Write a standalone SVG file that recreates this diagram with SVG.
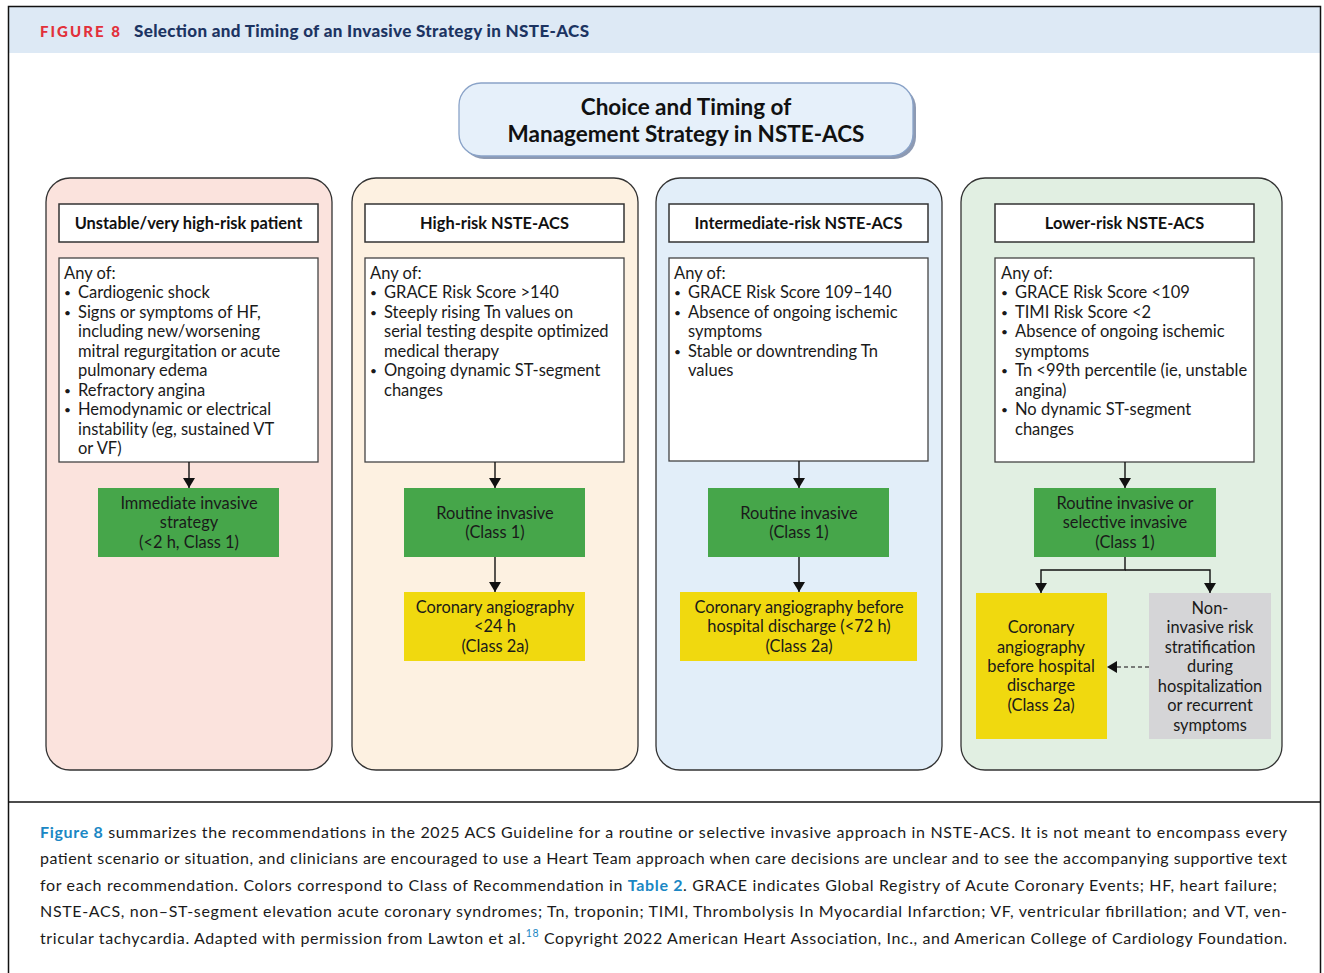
<svg xmlns="http://www.w3.org/2000/svg" width="1324" height="973" viewBox="0 0 1324 973">
<defs>
<marker id="ah" viewBox="0 0 10 12" refX="10" refY="6" markerWidth="10" markerHeight="12" markerUnits="userSpaceOnUse" orient="auto">
<path d="M0,0 L10,6 L0,12 Z" fill="#111"/>
</marker>
<style>
.col{stroke:#333;stroke-width:1.3}
.hdr{fill:#fff;stroke:#333;stroke-width:1.5}
.hdrt{font-family:Lato,"Liberation Sans",sans-serif;font-weight:bold;font-size:16.4px;fill:#111;text-anchor:middle}
.body{fill:#fff;stroke:#444;stroke-width:1.3}
.bt{font-family:Lato,"Liberation Sans",sans-serif;font-size:16.5px;fill:#1a1a1a}
.bu{font-family:Lato,"Liberation Sans",sans-serif;font-size:12px;fill:#1a1a1a}
.ct{font-family:Lato,"Liberation Sans",sans-serif;font-size:16.4px;fill:#1a1a1a;text-anchor:middle}
.green{fill:#46a64a}
.yellow{fill:#f0d90f}
.gray{fill:#d5d5d7}
.conn{stroke:#111;stroke-width:1.4;fill:none}
.cap{font-family:Lato,"Liberation Sans",sans-serif;font-size:16px;fill:#1a1a1a}
.lnk{fill:#1a87c4;font-weight:bold}
</style>
</defs>
<rect x="0" y="0" width="1324" height="973" fill="#fff"/>
<!-- frame -->
<rect x="9" y="7" width="1311" height="46" fill="#dde9f5"/>
<path d="M8.5,980 V6.5 H1320.5 V980" fill="none" stroke="#111" stroke-width="1.5"/>
<line x1="8" y1="802" x2="1321" y2="802" stroke="#111" stroke-width="1.5"/>
<text x="40" y="37" font-family="Lato,'Liberation Sans',sans-serif" font-weight="900" font-size="15" textLength="80" lengthAdjust="spacing" fill="#e2303a">FIGURE 8</text>
<text x="134" y="37" font-family="Lato,'Liberation Sans',sans-serif" font-weight="900" font-size="17" textLength="455" lengthAdjust="spacing" fill="#1c3462">Selection and Timing of an Invasive Strategy in NSTE-ACS</text>

<!-- title node -->
<g id="title">
<rect x="462" y="86" width="454" height="73" rx="22" fill="#8d9ab3"/>
<rect x="459" y="83" width="454" height="73" rx="22" fill="#e6f0fa" stroke="#8aa3c8" stroke-width="1.3"/>
<text x="686" y="115" font-family="Lato,'Liberation Sans',sans-serif" font-weight="bold" font-size="22.5" fill="#111" text-anchor="middle">Choice and Timing of</text>
<text x="686" y="142" font-family="Lato,'Liberation Sans',sans-serif" font-weight="bold" font-size="22.5" fill="#111" text-anchor="middle">Management Strategy in NSTE-ACS</text>
</g>

<!-- column backgrounds -->
<g id="col1">
<rect class="col" x="46" y="178" width="286" height="592" rx="24" fill="#fbe3dd"/>
<rect class="hdr" x="59" y="204" width="259" height="38"/>
<text class="hdrt" x="188.5" y="229">Unstable/very high-risk patient</text>
<rect class="body" x="59" y="258" width="259" height="204"/>
<text class="bt" x="64" y="279">Any of:</text>
<text class="bu" x="64" y="297">•</text><text class="bt" x="78" y="298">Cardiogenic shock</text>
<text class="bu" x="64" y="317">•</text><text class="bt" x="78" y="318">Signs or symptoms of HF,</text>
<text class="bt" x="78" y="337">including new/worsening</text>
<text class="bt" x="78" y="357">mitral regurgitation or acute</text>
<text class="bt" x="78" y="376">pulmonary edema</text>
<text class="bu" x="64" y="395">•</text><text class="bt" x="78" y="396">Refractory angina</text>
<text class="bu" x="64" y="414">•</text><text class="bt" x="78" y="415">Hemodynamic or electrical</text>
<text class="bt" x="78" y="435">instability (eg, sustained VT</text>
<text class="bt" x="78" y="454">or VF)</text>
</g>
<g id="n1-green">
<rect class="green" x="98" y="488" width="181" height="69"/>
<text class="ct" x="189" y="509">Immediate invasive</text>
<text class="ct" x="189" y="528">strategy</text>
<text class="ct" x="189" y="548">(&lt;2 h, Class 1)</text>
</g>

<g id="col2">
<rect class="col" x="352" y="178" width="286" height="592" rx="24" fill="#fdf1e1"/>
<rect class="hdr" x="365" y="204" width="259" height="38"/>
<text class="hdrt" x="494.5" y="229">High-risk NSTE-ACS</text>
<rect class="body" x="365" y="258" width="259" height="204"/>
<text class="bt" x="370" y="279">Any of:</text>
<text class="bu" x="370" y="297">•</text><text class="bt" x="384" y="298">GRACE Risk Score &gt;140</text>
<text class="bu" x="370" y="317">•</text><text class="bt" x="384" y="318">Steeply rising Tn values on</text>
<text class="bt" x="384" y="337">serial testing despite optimized</text>
<text class="bt" x="384" y="357">medical therapy</text>
<text class="bu" x="370" y="375">•</text><text class="bt" x="384" y="376">Ongoing dynamic ST-segment</text>
<text class="bt" x="384" y="396">changes</text>
</g>
<g id="n2-green">
<rect class="green" x="404" y="488" width="181" height="69"/>
<text class="ct" x="495" y="519">Routine invasive</text>
<text class="ct" x="495" y="538">(Class 1)</text>
</g>
<g id="n2-yellow">
<rect class="yellow" x="404" y="592" width="181" height="69"/>
<text class="ct" x="495" y="613">Coronary angiography</text>
<text class="ct" x="495" y="632">&lt;24 h</text>
<text class="ct" x="495" y="652">(Class 2a)</text>
</g>

<g id="col3">
<rect class="col" x="656" y="178" width="286" height="592" rx="24" fill="#e2eef9"/>
<rect class="hdr" x="669" y="204" width="259" height="38"/>
<text class="hdrt" x="798.5" y="229">Intermediate-risk NSTE-ACS</text>
<rect class="body" x="669" y="258" width="259" height="203"/>
<text class="bt" x="674" y="279">Any of:</text>
<text class="bu" x="674" y="297">•</text><text class="bt" x="688" y="298">GRACE Risk Score 109–140</text>
<text class="bu" x="674" y="317">•</text><text class="bt" x="688" y="318">Absence of ongoing ischemic</text>
<text class="bt" x="688" y="337">symptoms</text>
<text class="bu" x="674" y="356">•</text><text class="bt" x="688" y="357">Stable or downtrending Tn</text>
<text class="bt" x="688" y="376">values</text>
</g>
<g id="n3-green">
<rect class="green" x="708" y="488" width="181" height="69"/>
<text class="ct" x="799" y="519">Routine invasive</text>
<text class="ct" x="799" y="538">(Class 1)</text>
</g>
<g id="n3-yellow">
<rect class="yellow" x="680" y="592" width="237" height="69"/>
<text class="ct" x="799" y="613">Coronary angiography before</text>
<text class="ct" x="799" y="632">hospital discharge (&lt;72 h)</text>
<text class="ct" x="799" y="652">(Class 2a)</text>
</g>

<g id="col4">
<rect class="col" x="961" y="178" width="321" height="592" rx="24" fill="#e1efe2"/>
<rect class="hdr" x="995" y="204" width="259" height="38"/>
<text class="hdrt" x="1124.5" y="229">Lower-risk NSTE-ACS</text>
<rect class="body" x="995" y="258" width="259" height="204"/>
<text class="bt" x="1001" y="279">Any of:</text>
<text class="bu" x="1001" y="297">•</text><text class="bt" x="1015" y="298">GRACE Risk Score &lt;109</text>
<text class="bu" x="1001" y="317">•</text><text class="bt" x="1015" y="318">TIMI Risk Score &lt;2</text>
<text class="bu" x="1001" y="336">•</text><text class="bt" x="1015" y="337">Absence of ongoing ischemic</text>
<text class="bt" x="1015" y="357">symptoms</text>
<text class="bu" x="1001" y="375">•</text><text class="bt" x="1015" y="376">Tn &lt;99th percentile (ie, unstable</text>
<text class="bt" x="1015" y="396">angina)</text>
<text class="bu" x="1001" y="414">•</text><text class="bt" x="1015" y="415">No dynamic ST-segment</text>
<text class="bt" x="1015" y="435">changes</text>
</g>
<g id="n4-green">
<rect class="green" x="1034" y="488" width="182" height="69"/>
<text class="ct" x="1125" y="509">Routine invasive or</text>
<text class="ct" x="1125" y="528">selective invasive</text>
<text class="ct" x="1125" y="548">(Class 1)</text>
</g>
<g id="n4-yellow">
<rect class="yellow" x="976" y="593" width="131" height="146"/>
<text class="ct" x="1041" y="633">Coronary</text>
<text class="ct" x="1041" y="653">angiography</text>
<text class="ct" x="1041" y="672">before hospital</text>
<text class="ct" x="1041" y="691">discharge</text>
<text class="ct" x="1041" y="711">(Class 2a)</text>
</g>
<g id="n4-gray">
<rect class="gray" x="1149" y="593" width="122" height="146"/>
<text class="ct" x="1210" y="614">Non-</text>
<text class="ct" x="1210" y="633">invasive risk</text>
<text class="ct" x="1210" y="653">stratification</text>
<text class="ct" x="1210" y="672">during</text>
<text class="ct" x="1210" y="692">hospitalization</text>
<text class="ct" x="1210" y="711">or recurrent</text>
<text class="ct" x="1210" y="731">symptoms</text>
</g>

<!-- connectors -->
<g id="connectors">
<line class="conn" x1="189" y1="462" x2="189" y2="488" marker-end="url(#ah)"/>
<line class="conn" x1="495" y1="462" x2="495" y2="488" marker-end="url(#ah)"/>
<line class="conn" x1="495" y1="557" x2="495" y2="592" marker-end="url(#ah)"/>
<line class="conn" x1="799" y1="461" x2="799" y2="488" marker-end="url(#ah)"/>
<line class="conn" x1="799" y1="557" x2="799" y2="592" marker-end="url(#ah)"/>
<line class="conn" x1="1125" y1="462" x2="1125" y2="488" marker-end="url(#ah)"/>
<path class="conn" d="M1125,557 V570 H1041 V593" marker-end="url(#ah)"/>
<path class="conn" d="M1125,570 H1210 V593" marker-end="url(#ah)"/>
<line x1="1149" y1="667" x2="1107" y2="667" stroke="#555" stroke-width="1.3" stroke-dasharray="4,3" marker-end="url(#ah)"/>
</g>

<!-- caption -->
<g id="caption">
<text class="cap" x="40" y="838" textLength="1247" lengthAdjust="spacing"><tspan class="lnk">Figure 8</tspan> summarizes the recommendations in the 2025 ACS Guideline for a routine or selective invasive approach in NSTE-ACS. It is not meant to encompass every</text>
<text class="cap" x="40" y="864" textLength="1247" lengthAdjust="spacing">patient scenario or situation, and clinicians are encouraged to use a Heart Team approach when care decisions are unclear and to see the accompanying supportive text</text>
<text class="cap" x="40" y="891" textLength="1237" lengthAdjust="spacing">for each recommendation. Colors correspond to Class of Recommendation in <tspan class="lnk">Table 2</tspan>. GRACE indicates Global Registry of Acute Coronary Events; HF, heart failure;</text>
<text class="cap" x="40" y="917" textLength="1247" lengthAdjust="spacing">NSTE-ACS, non–ST-segment elevation acute coronary syndromes; Tn, troponin; TIMI, Thrombolysis In Myocardial Infarction; VF, ventricular fibrillation; and VT, ven-</text>
<text class="cap" x="40" y="944" textLength="1247" lengthAdjust="spacing">tricular tachycardia. Adapted with permission from Lawton et al.<tspan font-size="10.5" dy="-7" fill="#1a87c4">18</tspan><tspan dy="7"> Copyright 2022 American Heart Association, Inc., and American College of Cardiology Foundation.</tspan></text>
</g>
</svg>
